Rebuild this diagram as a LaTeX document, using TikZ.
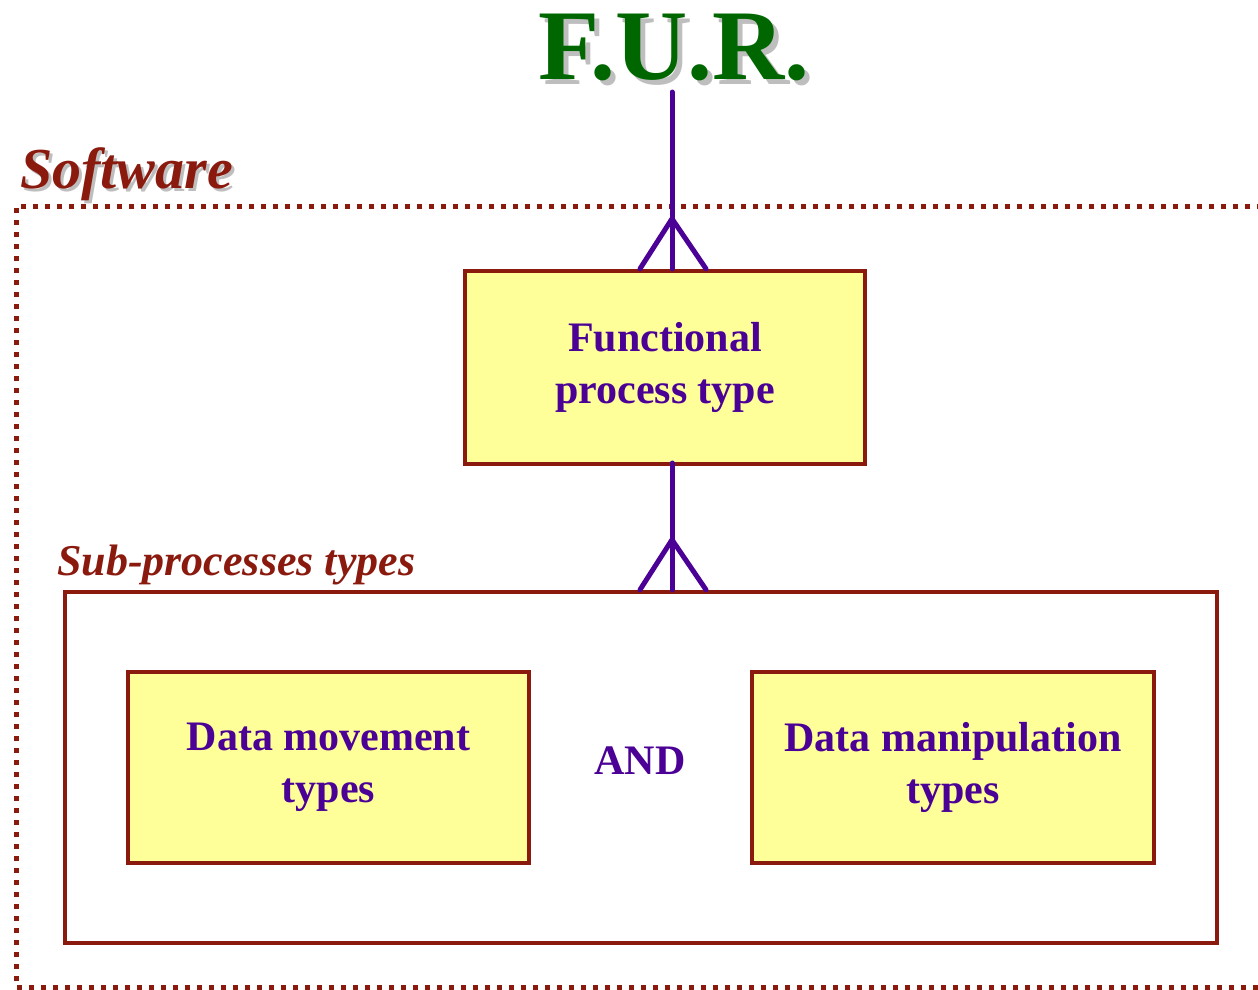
\documentclass[tikz,border=0pt]{standalone}
\usepackage{fontspec}
\setmainfont{Liberation Serif}
\usetikzlibrary{positioning, calc}
\definecolor{furgreen}{RGB}{0,102,0}
\definecolor{swred}{RGB}{139,26,14}
\definecolor{fpurple}{RGB}{75,0,150}
\definecolor{fyellow}{RGB}{255,255,153}
\definecolor{shade}{RGB}{190,190,190}

\begin{document}
\begin{tikzpicture}[x=1pt, y=-1pt,
		typebox/.style = {rectangle, draw = swred, line width = 4.5pt, fill = fyellow, text = fpurple, align = center, font = \fontsize{42}{52}\selectfont\bfseries},
		groupbox/.style = {rectangle, draw = swred, line width = 4.5pt, fill = white},
		link/.style = {draw = fpurple, line width = 5pt, line cap = round, line join = round},
		redlabel/.style = {text = swred, font = \bfseries\itshape, inner sep = 0pt},
	]
	\useasboundingbox (0,0) rectangle (1258,989);

	% software boundary (open on the right)
	\draw[swred, line width = 5pt, dash pattern = on 5pt off 7pt] (1262,206) -- (16,206) -- (16,987) -- (1262,987);

	% title
	\node[text = shade, font = \fontsize{100}{100}\selectfont\bfseries, inner sep = 0pt] at (679,52) {F.U.R.};
	\node(fur)[text = furgreen, font = \fontsize{100}{100}\selectfont\bfseries, inner sep = 0pt] at (674,47) {F.U.R.};

	\node[redlabel, text = shade, anchor = base west, font = \fontsize{58}{58}\selectfont\bfseries\itshape] at (23,191) {Software};
	\node(sw)[redlabel, anchor = base west, font = \fontsize{58}{58}\selectfont\bfseries\itshape] at (20,188) {Software};

	% boxes
	\node(fpt)[typebox, minimum width = 400pt, minimum height = 193pt] at (665,367.5) {Functional\\process type};

	\node(sub)[groupbox, minimum width = 1152pt, minimum height = 351pt] at (641,767.5) {};
	\node(subl)[redlabel, anchor = base west, font = \fontsize{44}{44}\selectfont\bfseries\itshape] at (57,575) {Sub-processes types};

	\node(dmov)[typebox, minimum width = 401pt, minimum height = 191pt] at (328.5,767.5) {Data movement\\types};
	\node(dman)[typebox, minimum width = 402pt, minimum height = 191pt] at (953,767.5) {Data manipulation\\types};
	\node(and)[text = fpurple, font = \fontsize{42}{42}\selectfont\bfseries] at (640,761) {AND};

	% connectors with crow's feet
	\coordinate(furfoot) at (672,92);
	\coordinate(fptfoot) at (672,463);
	\draw[link] (furfoot) -- (furfoot |- fpt.north);
	\draw[link] ($(furfoot |- fpt.north)+(-32,0)$) -- ($(furfoot |- fpt.north)+(0,-50)$) -- ($(furfoot |- fpt.north)+(34,0)$);
	\draw[link] (fptfoot) -- (fptfoot |- sub.north);
	\draw[link] ($(fptfoot |- sub.north)+(-32,0)$) -- ($(fptfoot |- sub.north)+(0,-50)$) -- ($(fptfoot |- sub.north)+(34,0)$);

\end{tikzpicture}
\end{document}
